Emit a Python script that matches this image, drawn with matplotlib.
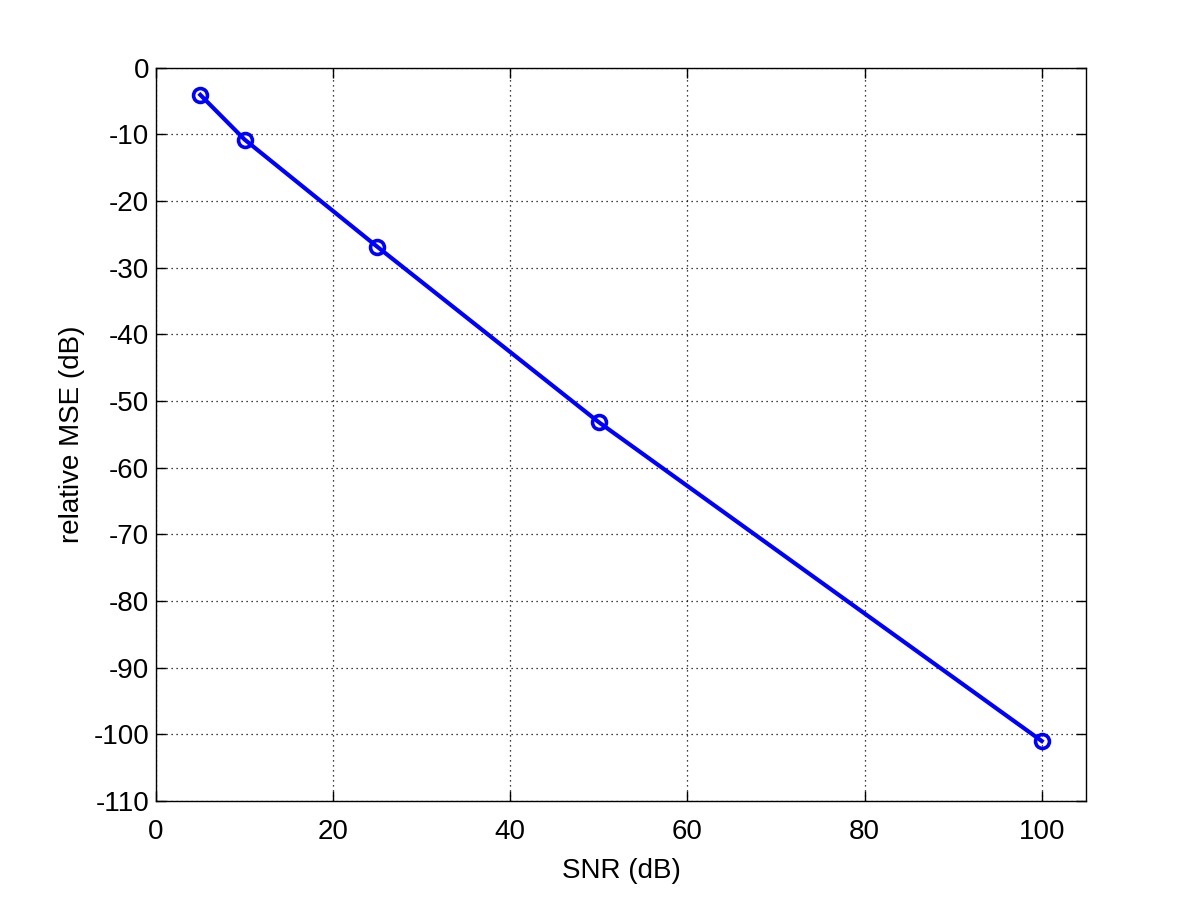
import matplotlib
matplotlib.use("Agg")
import matplotlib.pyplot as plt

# SNR values (dB) and resulting relative MSE (dB)
snr_db = [5, 10, 25, 50, 100]
mse_db = [-4.1, -10.8, -26.9, -53.2, -101.0]

x_ticks = list(range(0, 101, 20))
y_ticks = list(range(-110, 1, 10))

plt.rcParams['font.family'] = ['Liberation Sans', 'DejaVu Sans']
plt.rcParams['axes.unicode_minus'] = False

fig = plt.figure(figsize=(12, 9), dpi=100)
ax = fig.add_axes([0.13, 0.11, 0.775, 0.815])

ax.plot(snr_db, mse_db, color='#0000ff', linewidth=3, marker='o',
        markersize=10, markeredgewidth=2.6, markerfacecolor='none')

ax.set_xlim(0, 105)
ax.set_ylim(-110, 0)
ax.set_xticks(x_ticks)
ax.set_yticks(y_ticks)
ax.tick_params(direction='in', top=True, right=True, length=7, width=1,
               labelsize=20)
ax.tick_params(axis='x', pad=13)
ax.tick_params(axis='y', pad=5)
ax.grid(True, linestyle=(0, (1, 3)), color='black', linewidth=0.9)

ax.set_xlabel("SNR (dB)", fontsize=20, labelpad=9)
ax.set_ylabel("relative MSE (dB)", fontsize=20, labelpad=6)

for s in ax.spines.values():
    s.set_linewidth(1)

fig.savefig("out.png", dpi=100)
